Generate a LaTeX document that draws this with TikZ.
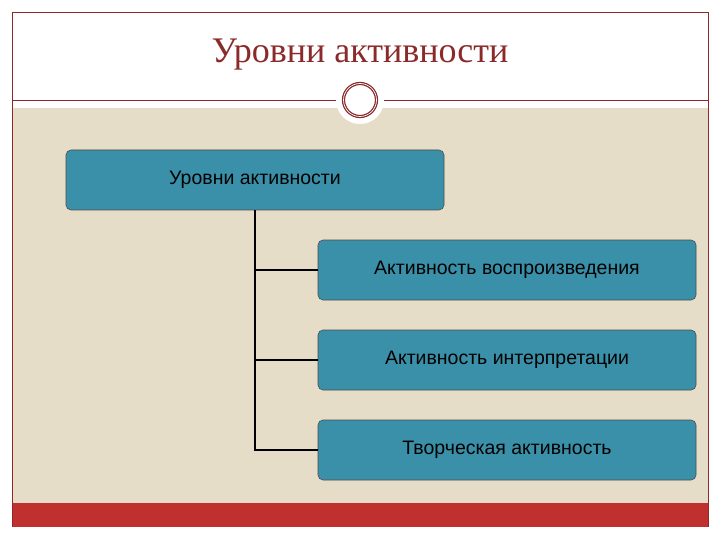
\documentclass[tikz,border=0pt]{standalone}
\usepackage{fontspec}
\setmainfont{Liberation Serif}
\newfontfamily\boxfont{Liberation Sans}
\definecolor{beige}{HTML}{E6DDC8}
\definecolor{dred}{HTML}{8B2A2A}
\definecolor{barred}{HTML}{C0302E}
\definecolor{teal}{HTML}{3A90A8}
\begin{document}
\begin{tikzpicture}[x=1pt,y=-1pt,
  lvl/.style={draw=black!70,fill=teal,rounded corners=5pt,line width=0.6pt,inner sep=0pt,font=\boxfont\fontsize{19.5}{22}\selectfont},
  conn/.style={line width=1.2pt,black}]
\useasboundingbox (0,0) rectangle (720,540);
\fill[white] (0,0) rectangle (720,540);
\fill[beige] (12,108) rectangle (708,503);
\fill[barred] (12,503) rectangle (708,527);
\draw[dred,line width=0.6pt] (12,527) -- (12,12) -- (708,12) -- (708,527);
\draw[dred,line width=0.6pt] (12,100) -- (708,100);
\fill[white] (360,100) circle (24);
\draw[dred,line width=3.2pt] (360,100) circle (16.5);
\draw[white,line width=0.7pt] (360,100) circle (16.5);
\node[text=dred,font=\fontsize{36}{40}\selectfont] (title) at (360,55) {Уровни активности};
\node[lvl,minimum width=378pt,minimum height=60pt] (top) at (255,180) {Уровни активности};
\node[lvl,minimum width=378pt,minimum height=60pt] (a) at (507,270) {Активность воспроизведения};
\node[lvl,minimum width=378pt,minimum height=60pt] (b) at (507,360) {Активность интерпретации};
\node[lvl,minimum width=378pt,minimum height=60pt] (c) at (507,450) {Творческая активность};
\coordinate (s) at (255,210);
\draw[conn] (top.south) -- (s |- c.west) -- (c.west);
\draw[conn] (s |- a.west) -- (a.west);
\draw[conn] (s |- b.west) -- (b.west);
\end{tikzpicture}
\end{document}
